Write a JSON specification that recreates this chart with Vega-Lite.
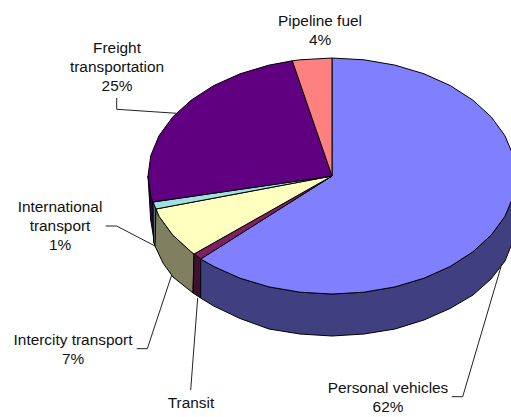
{
"$schema":"https://vega.github.io/schema/vega-lite/v6.json",
"description":"Transport energy shares as a 3D pie. Vega-Lite has no 3D or elliptical arc, so slice outlines are traced from the reference picture rather than derived from the share values.",
"width":511,"height":417,"padding":0,"autosize":{"type":"none"},
"background":"white",
"config":{"view":{"stroke":null}},
"datasets":{
"slices":[
{"slice":"Personal vehicles","share":62,"label":"Personal vehicles\n62%","labelX":388,"labelY":393},
{"slice":"Transit","share":1,"label":"Transit\n1%","labelX":191,"labelY":408},
{"slice":"Intercity transport","share":7,"label":"Intercity transport\n7%","labelX":73,"labelY":345},
{"slice":"International transport","share":1,"label":"International\ntransport\n1%","labelX":60,"labelY":212},
{"slice":"Freight transportation","share":25,"label":"Freight\ntransportation\n25%","labelX":117,"labelY":53},
{"slice":"Pipeline fuel","share":4,"label":"Pipeline fuel\n4%","labelX":320,"labelY":26}
],
"leaders":[
{"leader":"Freight","seq":1,"px":116.7,"py":98},{"leader":"Freight","seq":2,"px":116.7,"py":109.3},{"leader":"Freight","seq":3,"px":176.7,"py":113.3},
{"leader":"International","seq":1,"px":105.7,"py":226},{"leader":"International","seq":2,"px":116.7,"py":226},{"leader":"International","seq":3,"px":155,"py":246},
{"leader":"Intercity","seq":1,"px":136.7,"py":348.7},{"leader":"Intercity","seq":2,"px":147.3,"py":348.7},{"leader":"Intercity","seq":3,"px":171.7,"py":275},
{"leader":"Transit","seq":1,"px":190.7,"py":390},{"leader":"Transit","seq":2,"px":197.7,"py":298},
{"leader":"Personal","seq":1,"px":451.7,"py":396.7},{"leader":"Personal","seq":2,"px":462.7,"py":396.7},{"leader":"Personal","seq":3,"px":501,"py":266.7}
],
"outlines":[
{"part":"Freight wall","seq":1,"px":148,"py":176},{"part":"Freight wall","seq":2,"px":150.8,"py":196.5},{"part":"Freight wall","seq":3,"px":153,"py":202},{"part":"Freight wall","seq":4,"px":155,"py":246},{"part":"Freight wall","seq":5,"px":150.7,"py":220},{"part":"Freight wall","seq":6,"px":148,"py":176},
{"part":"International wall","seq":1,"px":153,"py":202},{"part":"International wall","seq":2,"px":156,"py":209},{"part":"International wall","seq":3,"px":155.5,"py":247},{"part":"International wall","seq":4,"px":153.5,"py":242},{"part":"International wall","seq":5,"px":153,"py":202},
{"part":"Intercity wall","seq":1,"px":156,"py":209},{"part":"Intercity wall","seq":2,"px":159.1,"py":216.4},{"part":"Intercity wall","seq":3,"px":172.7,"py":235},{"part":"Intercity wall","seq":4,"px":191.1,"py":251.8},{"part":"Intercity wall","seq":5,"px":194,"py":254},{"part":"Intercity wall","seq":6,"px":193,"py":293},{"part":"Intercity wall","seq":7,"px":173,"py":277},{"part":"Intercity wall","seq":8,"px":163,"py":263},{"part":"Intercity wall","seq":9,"px":155,"py":246},{"part":"Intercity wall","seq":10,"px":156,"py":209},
{"part":"Transit wall","seq":1,"px":194,"py":254},{"part":"Transit wall","seq":2,"px":200.7,"py":259},{"part":"Transit wall","seq":3,"px":200.7,"py":298},{"part":"Transit wall","seq":4,"px":193,"py":293},{"part":"Transit wall","seq":5,"px":194,"py":254},
{"part":"Personal wall","seq":1,"px":516,"py":176},{"part":"Personal wall","seq":2,"px":513.2,"py":196.5},{"part":"Personal wall","seq":3,"px":504.9,"py":216.4},{"part":"Personal wall","seq":4,"px":491.3,"py":235},{"part":"Personal wall","seq":5,"px":472.9,"py":251.8},{"part":"Personal wall","seq":6,"px":450.3,"py":266.4},{"part":"Personal wall","seq":7,"px":424,"py":278.2},{"part":"Personal wall","seq":8,"px":394.9,"py":286.9},{"part":"Personal wall","seq":9,"px":363.9,"py":292.2},{"part":"Personal wall","seq":10,"px":332,"py":294},{"part":"Personal wall","seq":11,"px":300.1,"py":292.2},{"part":"Personal wall","seq":12,"px":269.1,"py":286.9},{"part":"Personal wall","seq":13,"px":240,"py":278.2},{"part":"Personal wall","seq":14,"px":213.7,"py":266.4},{"part":"Personal wall","seq":15,"px":200.7,"py":259},{"part":"Personal wall","seq":16,"px":200.7,"py":298},{"part":"Personal wall","seq":17,"px":213.7,"py":306},{"part":"Personal wall","seq":18,"px":240,"py":318.5},{"part":"Personal wall","seq":19,"px":269,"py":329},{"part":"Personal wall","seq":20,"px":300,"py":334},{"part":"Personal wall","seq":21,"px":332,"py":336},{"part":"Personal wall","seq":22,"px":364,"py":334},{"part":"Personal wall","seq":23,"px":395,"py":329},{"part":"Personal wall","seq":24,"px":424,"py":320},{"part":"Personal wall","seq":25,"px":450,"py":308.5},{"part":"Personal wall","seq":26,"px":473,"py":295},{"part":"Personal wall","seq":27,"px":491,"py":279},{"part":"Personal wall","seq":28,"px":505,"py":261},{"part":"Personal wall","seq":29,"px":513,"py":241},{"part":"Personal wall","seq":30,"px":516,"py":218},{"part":"Personal wall","seq":31,"px":516,"py":176},
{"part":"Personal top","seq":1,"px":332,"py":176},{"part":"Personal top","seq":2,"px":332,"py":58},{"part":"Personal top","seq":3,"px":363.9,"py":59.8},{"part":"Personal top","seq":4,"px":394.9,"py":65.1},{"part":"Personal top","seq":5,"px":424,"py":73.8},{"part":"Personal top","seq":6,"px":450.3,"py":85.6},{"part":"Personal top","seq":7,"px":472.9,"py":100.2},{"part":"Personal top","seq":8,"px":491.3,"py":117},{"part":"Personal top","seq":9,"px":504.9,"py":135.6},{"part":"Personal top","seq":10,"px":513.2,"py":155.5},{"part":"Personal top","seq":11,"px":516,"py":176},{"part":"Personal top","seq":12,"px":513.2,"py":196.5},{"part":"Personal top","seq":13,"px":504.9,"py":216.4},{"part":"Personal top","seq":14,"px":491.3,"py":235},{"part":"Personal top","seq":15,"px":472.9,"py":251.8},{"part":"Personal top","seq":16,"px":450.3,"py":266.4},{"part":"Personal top","seq":17,"px":424,"py":278.2},{"part":"Personal top","seq":18,"px":394.9,"py":286.9},{"part":"Personal top","seq":19,"px":363.9,"py":292.2},{"part":"Personal top","seq":20,"px":332,"py":294},{"part":"Personal top","seq":21,"px":300.1,"py":292.2},{"part":"Personal top","seq":22,"px":269.1,"py":286.9},{"part":"Personal top","seq":23,"px":240,"py":278.2},{"part":"Personal top","seq":24,"px":213.7,"py":266.4},{"part":"Personal top","seq":25,"px":200.7,"py":259},{"part":"Personal top","seq":26,"px":332,"py":176},
{"part":"Transit top","seq":1,"px":332,"py":176},{"part":"Transit top","seq":2,"px":200.7,"py":259},{"part":"Transit top","seq":3,"px":194,"py":254},{"part":"Transit top","seq":4,"px":332,"py":176},
{"part":"Intercity top","seq":1,"px":332,"py":176},{"part":"Intercity top","seq":2,"px":194,"py":254},{"part":"Intercity top","seq":3,"px":191.1,"py":251.8},{"part":"Intercity top","seq":4,"px":172.7,"py":235},{"part":"Intercity top","seq":5,"px":159.1,"py":216.4},{"part":"Intercity top","seq":6,"px":156,"py":209},{"part":"Intercity top","seq":7,"px":332,"py":176},
{"part":"International top","seq":1,"px":332,"py":176},{"part":"International top","seq":2,"px":156,"py":209},{"part":"International top","seq":3,"px":153,"py":202},{"part":"International top","seq":4,"px":332,"py":176},
{"part":"Freight top","seq":1,"px":332,"py":176},{"part":"Freight top","seq":2,"px":153,"py":202},{"part":"Freight top","seq":3,"px":150.8,"py":196.5},{"part":"Freight top","seq":4,"px":148,"py":176},{"part":"Freight top","seq":5,"px":150.8,"py":155.5},{"part":"Freight top","seq":6,"px":159.1,"py":135.6},{"part":"Freight top","seq":7,"px":172.7,"py":117},{"part":"Freight top","seq":8,"px":191.1,"py":100.2},{"part":"Freight top","seq":9,"px":213.7,"py":85.6},{"part":"Freight top","seq":10,"px":240,"py":73.8},{"part":"Freight top","seq":11,"px":269.1,"py":65.1},{"part":"Freight top","seq":12,"px":292.3,"py":60.8},{"part":"Freight top","seq":13,"px":332,"py":176},
{"part":"Pipeline top","seq":1,"px":332,"py":176},{"part":"Pipeline top","seq":2,"px":292.3,"py":60.8},{"part":"Pipeline top","seq":3,"px":300.1,"py":59.8},{"part":"Pipeline top","seq":4,"px":332,"py":58},{"part":"Pipeline top","seq":5,"px":332,"py":176}
]
},
"layer":[
{"data":{"name":"outlines"},
"mark":{"type":"line","stroke":"black","strokeWidth":1,"clip":true},
"encoding":{
"x":{"field":"px","type":"quantitative","scale":{"domain":[0,511]},"axis":null},
"y":{"field":"py","type":"quantitative","scale":{"domain":[417,0]},"axis":null},
"order":{"field":"seq","type":"quantitative"},
"detail":{"field":"part"},
"fill":{"field":"part","type":"nominal","legend":null,"scale":{
"domain":["Personal top","Personal wall","Transit top","Transit wall","Intercity top","Intercity wall","International top","International wall","Freight top","Freight wall","Pipeline top"],
"range":["#8080FF","#404080","#802060","#401030","#FFFFC0","#808060","#A0E0E0","#507070","#600080","#300040","#FF8080"]}}
}},
{"data":{"name":"leaders"},
"mark":{"type":"line","stroke":"#222222","strokeWidth":1},
"encoding":{
"x":{"field":"px","type":"quantitative","scale":{"domain":[0,511]},"axis":null},
"y":{"field":"py","type":"quantitative","scale":{"domain":[417,0]},"axis":null},
"order":{"field":"seq","type":"quantitative"},
"detail":{"field":"leader"}
}},
{"data":{"name":"slices"},
"mark":{"type":"text","font":"Liberation Sans","fontSize":15.4,"lineBreak":"\n","lineHeight":19,"align":"center","baseline":"alphabetic","color":"#111111"},
"encoding":{
"x":{"field":"labelX","type":"quantitative","scale":{"domain":[0,511]},"axis":null},
"y":{"field":"labelY","type":"quantitative","scale":{"domain":[417,0]},"axis":null},
"text":{"field":"label"}
}}
]
}
